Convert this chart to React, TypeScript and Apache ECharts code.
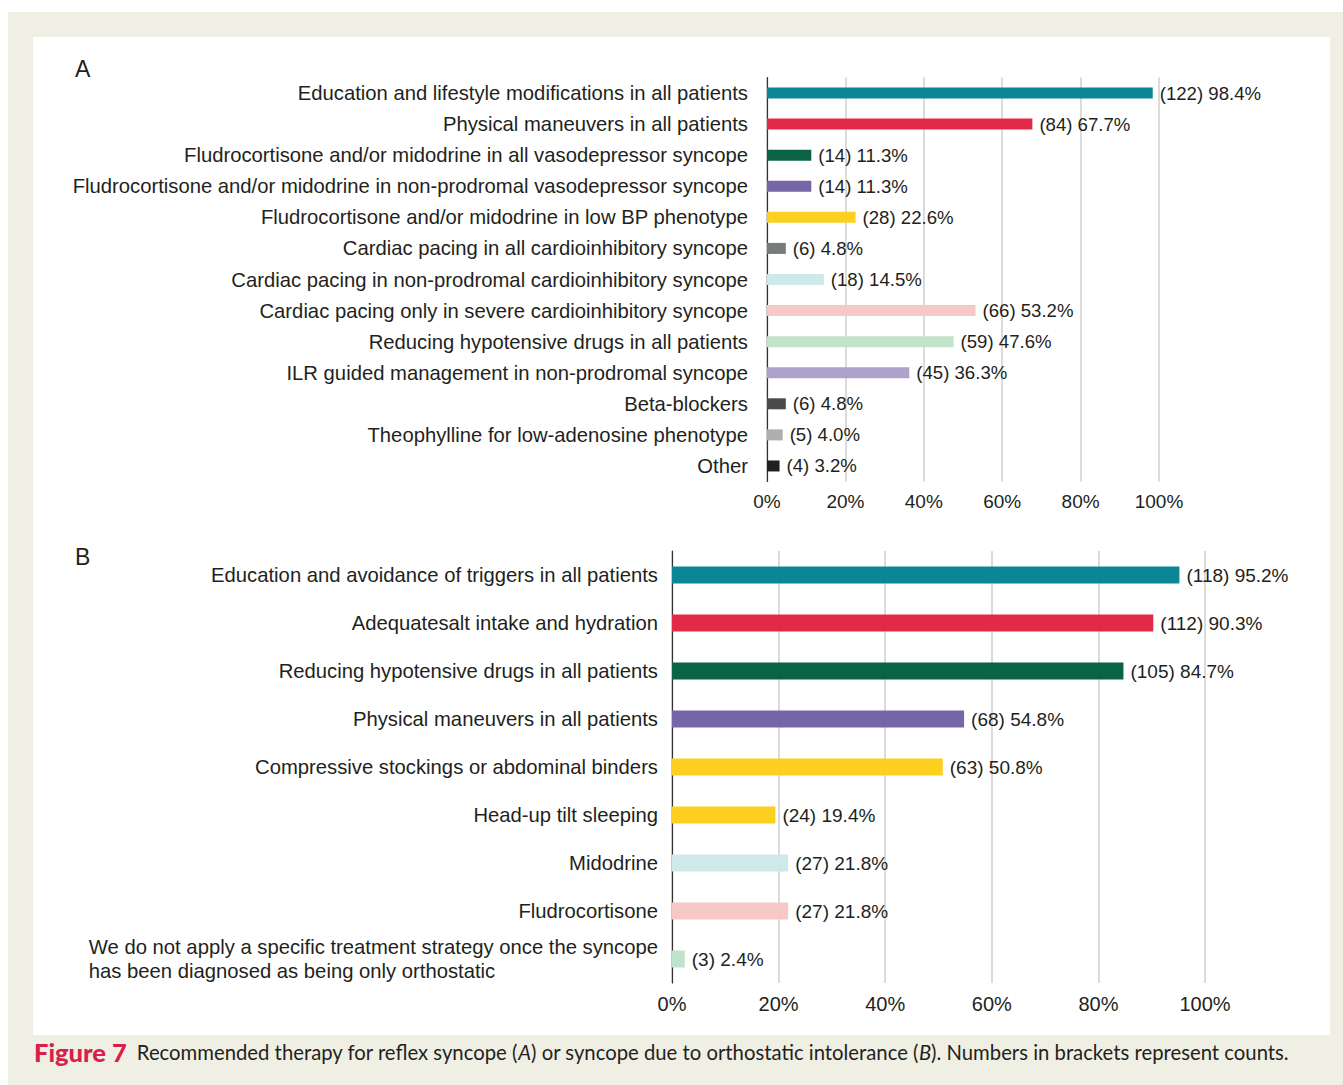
import React, { useEffect, useRef } from "react";
import * as echarts from "echarts";

const catsA = [
  "Education and lifestyle modifications in all patients",
  "Physical maneuvers in all patients",
  "Fludrocortisone and/or midodrine in all vasodepressor syncope",
  "Fludrocortisone and/or midodrine in non-prodromal vasodepressor syncope",
  "Fludrocortisone and/or midodrine in low BP phenotype",
  "Cardiac pacing in all cardioinhibitory syncope",
  "Cardiac pacing in non-prodromal cardioinhibitory syncope",
  "Cardiac pacing only in severe cardioinhibitory syncope",
  "Reducing hypotensive drugs in all patients",
  "ILR guided management in non-prodromal syncope",
  "Beta-blockers",
  "Theophylline for low-adenosine phenotype",
  "Other",
];
const pctA = [98.4, 67.7, 11.3, 11.3, 22.6, 4.8, 14.5, 53.2, 47.6, 36.3, 4.8, 4.0, 3.2];
const countsA = [122, 84, 14, 14, 28, 6, 18, 66, 59, 45, 6, 5, 4];
const colorsA = [
  "#0a8694", "#e02a47", "#0a6347", "#7566a8", "#fdd020", "#767b7b", "#cfe8ea",
  "#f7c9c6", "#c1e3cb", "#ada2cc", "#4a4a4c", "#aeaeae", "#231f20",
];

const catsB = [
  "Education and avoidance of triggers in all patients",
  "Adequatesalt intake and hydration",
  "Reducing hypotensive drugs in all patients",
  "Physical maneuvers in all patients",
  "Compressive stockings or abdominal binders",
  "Head-up tilt sleeping",
  "Midodrine",
  "Fludrocortisone",
  "We do not apply a specific treatment strategy once the syncope\nhas been diagnosed as being only orthostatic",
];
const pctB = [95.2, 90.3, 84.7, 54.8, 50.8, 19.4, 21.8, 21.8, 2.4];
const countsB = [118, 112, 105, 68, 63, 24, 27, 27, 3];
const colorsB = [
  "#0a8694", "#e02a47", "#0a6347", "#7566a8", "#fdd020", "#fdd020", "#cfe8ea",
  "#f7c9c6", "#c1e3cb",
];

const xTicks = [0, 20, 40, 60, 80, 100];

const FONT = "'Liberation Sans', Arial, Helvetica, sans-serif";
const CAPFONT = "Lato, sans-serif";
const TEXT = "#231f20";

export default function App() {
  const ref = useRef<HTMLDivElement>(null);
  useEffect(() => {
    if (!ref.current) return;
    const chart = echarts.init(ref.current, undefined, { renderer: "svg" });

    const xAxisBase = (gridIndex: number, fontSize: number, margin: number) => ({
      type: "value",
      gridIndex,
      min: xTicks[0],
      max: xTicks[xTicks.length - 1],
      interval: 20,
      axisLine: { show: false },
      axisTick: { show: false },
      splitLine: { show: true, lineStyle: { color: "#cfcfcf", width: 1.5 } },
      axisLabel: {
        formatter: "{value}%",
        fontSize,
        color: TEXT,
        fontFamily: FONT,
        margin,
      },
    });

    const yAxisBase = (gridIndex: number, data: string[], margin: number) => ({
      type: "category",
      gridIndex,
      data,
      inverse: true,
      axisLine: { show: true, lineStyle: { color: "#333", width: 1.2 } },
      axisTick: { show: false },
      splitLine: { show: false },
      axisLabel: {
        fontSize: 20.25,
        color: TEXT,
        fontFamily: FONT,
        margin,
        formatter: (v: string) =>
          v.indexOf("\n") >= 0
            ? v
                .split("\n")
                .map((l) => "{l|" + l + "}")
                .join("\n")
            : v,
        rich: {
          l: { align: "left", fontSize: 20.25, color: TEXT, fontFamily: FONT, lineHeight: 24 },
        },
      },
    });

    const labelCfg = (counts: number[], fontSize: number) => ({
      show: true,
      position: "right",
      distance: 7,
      fontSize,
      color: TEXT,
      fontFamily: FONT,
      formatter: (p: any) => "(" + counts[p.dataIndex] + ") " + p.value.toFixed(1) + "%",
    });

    const option: any = {
      animation: false,
      backgroundColor: "#ffffff",
      graphic: [
        { type: "rect", shape: { x: 8, y: 12, width: 1335, height: 1073 }, style: { fill: "#f0efe4" }, z: -10 },
        { type: "rect", shape: { x: 33, y: 37, width: 1297, height: 998 }, style: { fill: "#ffffff" }, z: -9 },
        { type: "text", x: 75, y: 69, style: { text: "A", fontSize: 23, fill: TEXT, fontFamily: FONT, verticalAlign: "middle" } },
        { type: "text", x: 75, y: 557, style: { text: "B", fontSize: 23, fill: TEXT, fontFamily: FONT, verticalAlign: "middle" } },
        {
          type: "text",
          x: 34,
          y: 1052,
          style: {
            text:
              "{b|Figure 7}{s| }{n|Recommended therapy for reflex syncope (}{i|A}{n|) or syncope due to orthostatic intolerance (}{i|B}{n|). Numbers in brackets represent counts.}",
            verticalAlign: "middle",
            rich: {
              b: { fontSize: 25.5, fontWeight: 900, fill: "#d81e4a", fontFamily: CAPFONT },
              s: { fontSize: 20, fill: TEXT, fontFamily: CAPFONT, width: 10 },
              n: { fontSize: 20.3, fill: TEXT, fontFamily: CAPFONT },
              i: { fontSize: 20.3, fill: TEXT, fontStyle: "italic", fontFamily: CAPFONT },
            },
          },
        },
      ],
      grid: [
        { left: 767, top: 77.5, width: 392, height: 404 },
        { left: 672, top: 551, width: 533, height: 432 },
      ],
      xAxis: [xAxisBase(0, 19, 10), xAxisBase(1, 20, 11)],
      yAxis: [yAxisBase(0, catsA, 19), yAxisBase(1, catsB, 14)],
      series: [
        {
          type: "bar",
          xAxisIndex: 0,
          yAxisIndex: 0,
          barWidth: 11,
          data: pctA.map((v, i) => ({ value: v, itemStyle: { color: colorsA[i] } })),
          label: labelCfg(countsA, 18.6),
        },
        {
          type: "bar",
          xAxisIndex: 1,
          yAxisIndex: 1,
          barWidth: 17,
          data: pctB.map((v, i) => ({ value: v, itemStyle: { color: colorsB[i] } })),
          label: labelCfg(countsB, 19),
        },
      ],
    };
    chart.setOption(option);
    return () => chart.dispose();
  }, []);
  return (
    <div
      ref={ref}
      style={{ position: "absolute", left: 0, top: 0, width: 1343, height: 1085 }}
    />
  );
}
